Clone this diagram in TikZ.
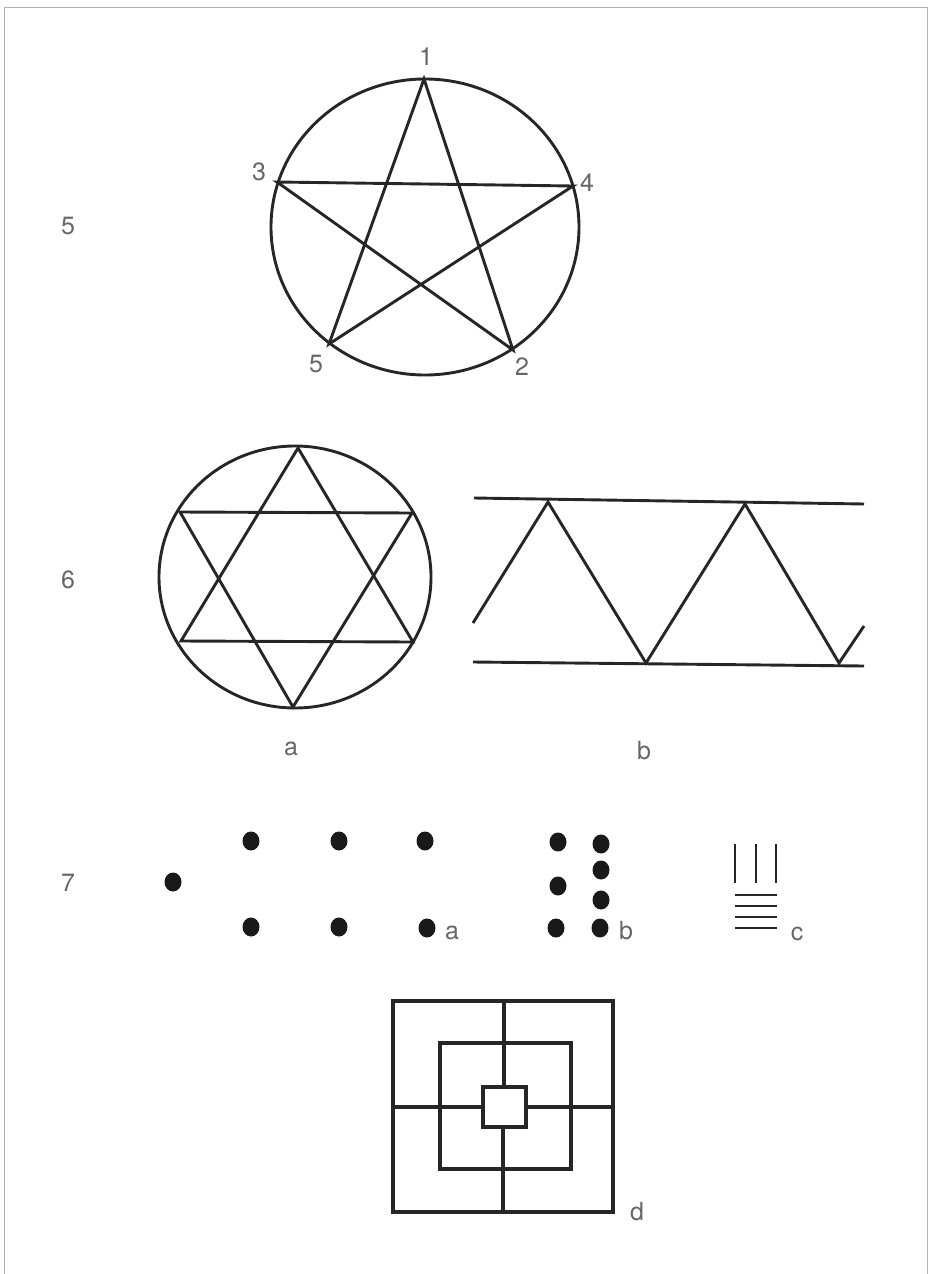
\documentclass[tikz,border=0pt]{standalone}
\usepackage{fontspec}
\setmainfont{TeX Gyre Heros}
\begin{document}
\begin{tikzpicture}[x=1pt, y=-1pt,
  fig/.style={line width=2.9pt, draw=black!85, line join=miter},
  lbl/.style={font=\fontsize{25}{25}\selectfont, text=black!60, inner sep=0pt},
  dot/.style={fill=black!90}]
  \useasboundingbox (0,0) rectangle (931,1274);
  % page frame
  \draw[black!30, line width=1pt] (4,1274) -- (4,7) -- (927,7) -- (927,1274);
  % figure numbers
  \node[lbl] (num5) at (68,226) {5};
  \node[lbl] (num6) at (68,580) {6};
  \node[lbl] (num7) at (68,883) {7};

  % pentagram in circle
  \coordinate (p1) at (424,79);
  \coordinate (p2) at (513,350);
  \coordinate (p3) at (277,182);
  \coordinate (p4) at (573,186);
  \coordinate (p5) at (329,344);
  \draw[fig] (425,227) ellipse [x radius=154, y radius=148];
  \draw[fig] (p1) -- (p2) -- (p3) -- (p4) -- (p5) -- cycle;
  \node[lbl] (l1) at (426,57) {1};
  \node[lbl] (l2) at (522,367) {2};
  \node[lbl] (l3) at (259,172) {3};
  \node[lbl] (l4) at (587,183) {4};
  \node[lbl] (l5) at (316,364) {5};

  % hexagram in circle
  \coordinate (h1) at (298,448);
  \coordinate (h2) at (181,641);
  \coordinate (h3) at (413,642);
  \coordinate (h4) at (293,707);
  \coordinate (h5) at (180,512);
  \coordinate (h6) at (412,513);
  \draw[fig] (295,577) ellipse [x radius=136, y radius=131];
  \draw[fig] (h1) -- (h2) -- (h3) -- cycle;
  \draw[fig] (h4) -- (h5) -- (h6) -- cycle;
  \node[lbl] (la) at (291,749) {a};

  % zigzag between two lines
  \coordinate (z0) at (473,623);
  \coordinate (z1) at (548,502);
  \coordinate (z2) at (646,663);
  \coordinate (z3) at (745,504);
  \coordinate (z4) at (839,663);
  \coordinate (z5) at (864,626);
  \draw[fig] (474,498) -- (864,504);
  \draw[fig] (473,662) -- (864,666);
  \draw[fig] (z0) -- (z1) -- (z2) -- (z3) -- (z4) -- (z5);
  \node[lbl] (lb) at (644,751) {b};

  % dots
  \foreach \x/\y in {251/841, 339/841, 425/841, 173/882, 251/927, 339/927, 427/928,
                     558/842, 601/844, 601/870, 558/886, 601/900, 556/928, 600/928}
    \fill[dot] (\x,\y) ellipse [x radius=8.5, y radius=9.5];
  \node[lbl] (da) at (452,933) {a};
  \node[lbl] (db) at (626,931) {b};

  % strokes
  \foreach \x in {735,756,776}
    \draw[fig] (\x,844) -- (\x,883);
  \foreach \y in {895,906,917,928}
    \draw[fig] (735,\y) -- (777,\y);
  \node[lbl] (dc) at (797,934) {c};

  % nested squares
  \draw[fig, line width=3.3pt] (393,1001) rectangle (613,1212);
  \draw[fig, line width=3.3pt] (440,1043) rectangle (571,1169);
  \draw[fig, line width=3.3pt] (483,1087) rectangle (526,1127);
  \draw[fig, line width=3.3pt] (504,1001) -- (504,1087) (503,1127) -- (503,1212);
  \draw[fig, line width=3.3pt] (393,1107) -- (483,1107) (526,1107) -- (613,1107);
  \node[lbl] (dd) at (637,1212) {d};
\end{tikzpicture}
\end{document}
